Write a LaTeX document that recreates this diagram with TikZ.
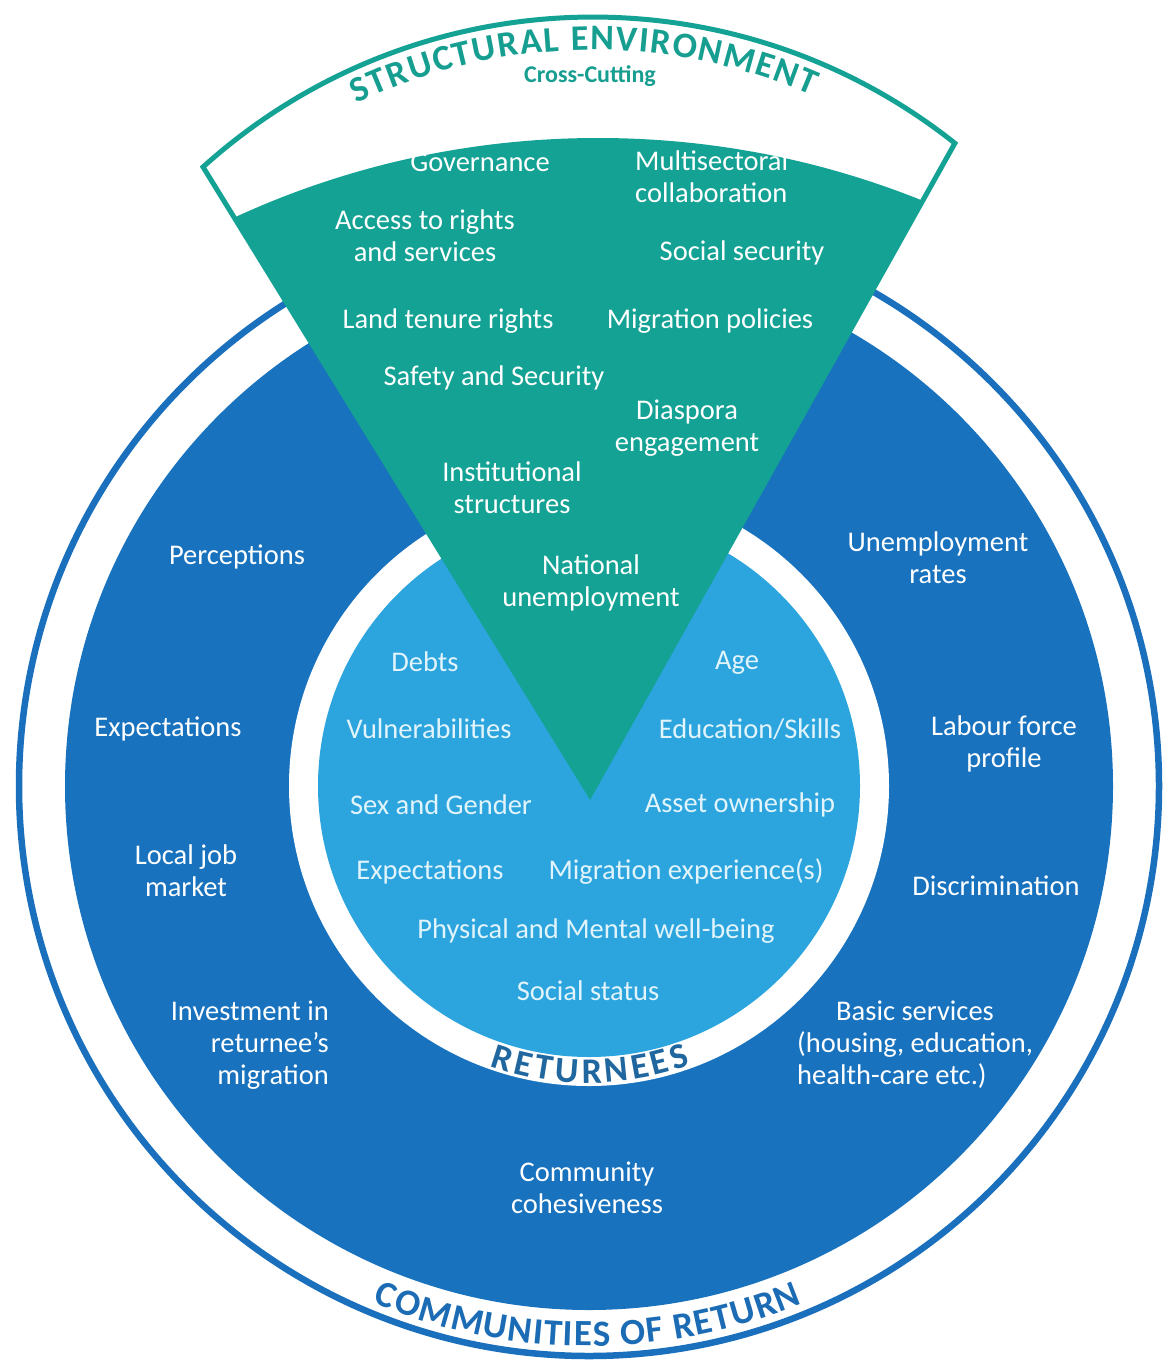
\documentclass[tikz,border=0pt]{standalone}
\usepackage{fontspec}
\setmainfont{Carlito}
\usetikzlibrary{decorations.text}
\definecolor{wedgeteal}{HTML}{13A294}
\definecolor{headteal}{HTML}{169E90}
\definecolor{ringblue}{HTML}{1A70BC}
\definecolor{darkdisk}{HTML}{1872BE}
\definecolor{lightdisk}{HTML}{2CA5DF}
\definecolor{palecyan}{HTML}{E2F4FB}
\definecolor{retblue}{HTML}{1F679E}
\definecolor{combl}{HTML}{1B6CB4}
\begin{document}
\begin{tikzpicture}[x=1pt,y=1pt,
  lab/.style={font=\fontsize{28.5}{32}\selectfont, text=white, align=center, inner sep=0pt},
  inlab/.style={lab, text=palecyan}]
\useasboundingbox (0,0) rectangle (1163,-1360);
\fill[white] (0,0) rectangle (1163,-1360);
\coordinate (C) at (589,-786);
% rings
\draw[ringblue, line width=6.5pt, fill=white] (C) circle[radius=570];
\fill[darkdisk] (C) circle[radius=524];
\fill[white] (C) circle[radius=300];
\fill[lightdisk] (C) circle[radius=271];
% wedge
\coordinate (A) at (590,-795);
\coordinate (L1) at ([shift={(593,-599)}]132.07:582);
\coordinate (R1) at ([shift={(593,-599)}]51.55:582);
\draw[wedgeteal, line width=5pt, line join=miter, fill=white] (A) -- (L1) arc[start angle=132.07, end angle=51.55, radius=582] -- cycle;
\begin{scope}
  \clip (598,-1007) circle[radius=869];
  \fill[wedgeteal] (A) -- (L1) arc[start angle=132.07, end angle=51.55, radius=582] -- cycle;
\end{scope}
% curved titles
\path[decorate, decoration={text along path, text align={fit to path}, text color=headteal,
  text={|\bfseries\fontsize{36}{36}\selectfont|STRUCTURAL ENVIRONMENT}}]
  ([shift={(593,-599)}]115.5:549) arc[start angle=115.5, end angle=66.5, radius=549];
\node[font=\bfseries\fontsize{24}{24}\selectfont, text=headteal, inner sep=0pt] (cc) at (590,-76) {Cross-Cutting};
\path[decorate, decoration={text along path, text align={fit to path}, text color=retblue,
  text={|\bfseries\fontsize{36}{36}\selectfont|RETURNEES}}]
  ([shift={(589,-786)}]250.5:297) arc[start angle=250.5, end angle=290, radius=297];
\path[decorate, decoration={text along path, text align={fit to path}, text color=combl,
  text={|\bfseries\fontsize{37}{37}\selectfont|COMMUNITIES OF RETURN}}]
  ([shift={(589,-786)}]247.3:560) arc[start angle=247.3, end angle=292.4, radius=560];
% wedge labels
\node[lab] (gov) at (480,-162) {Governance};
\node[lab, align=left, anchor=west] (multi) at (635,-177) {Multisectoral\\collaboration};
\node[lab] (access) at (425,-236) {Access to rights\\and services};
\node[lab] (socsec) at (742,-253) {Social security};
\node[lab] (land) at (448,-321) {Land tenure rights};
\node[lab] (migpol) at (710,-321) {Migration policies};
\node[lab] (safety) at (494,-378) {Safety and Security};
\node[lab] (diaspora) at (687,-428) {Diaspora\\engagement};
\node[lab] (inst) at (512,-488) {Institutional\\structures};
\node[lab] (natun) at (591,-583) {National\\unemployment};
% returnees labels
\node[inlab] (debts) at (425,-662) {Debts};
\node[inlab] (age) at (737,-663) {Age};
\node[inlab] (vuln) at (429,-729) {Vulnerabilities};
\node[inlab] (edu) at (750,-729) {Education/Skills};
\node[inlab] (sex) at (441,-805) {Sex and Gender};
\node[inlab] (asset) at (740,-805) {Asset ownership};
\node[inlab] (expi) at (430,-872) {Expectations};
\node[inlab] (migexp) at (686,-872) {Migration experience(s)};
\node[inlab] (phys) at (596,-931) {Physical and Mental well-being};
\node[inlab] (status) at (588,-991) {Social status};
% community labels
\node[lab] (perc) at (237,-557) {Perceptions};
\node[lab] (expo) at (168,-729) {Expectations};
\node[lab] (local) at (186,-871) {Local job\\market};
\node[lab, align=right, anchor=east] (invest) at (329,-1045) {Investment in\\returnee’s\hspace*{15pt}\\migration};
\node[lab] (unemp) at (938,-558) {Unemployment\\rates};
\node[lab] (labour) at (1004,-744) {Labour force\\profile};
\node[lab] (discr) at (996,-886) {Discrimination};
\node[lab, align=left, anchor=west] (basic) at (797,-1045) {\hspace*{39pt}Basic services\\(housing, education,\\health-care etc.)};
\node[lab] (commc) at (587,-1188) {Community\\cohesiveness};
\end{tikzpicture}
\end{document}
